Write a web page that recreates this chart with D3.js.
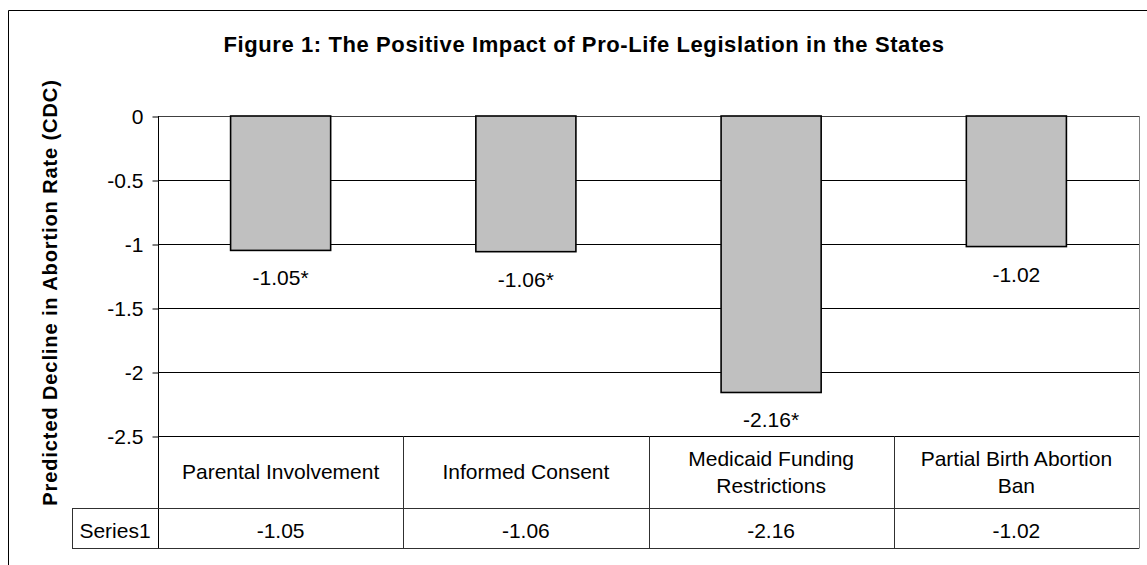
<!DOCTYPE html>
<html>
<head>
<meta charset="utf-8">
<script src="https://cdn.jsdelivr.net/npm/d3@7"></script>
<style>
  html, body { margin: 0; padding: 0; background: #fff; }
  svg { display: block; font-family: "Liberation Sans", Arial, sans-serif; }
</style>
</head>
<body>
<svg id="chart" width="1147" height="565"></svg>
<script>
// ---- data ----
const categories = ["Parental Involvement", "Informed Consent", "Medicaid Funding Restrictions", "Partial Birth Abortion Ban"];
const values = [-1.05, -1.06, -2.16, -1.02];
const significant = [true, true, true, false];
const seriesName = "Series1";
const yTicks = [0, -0.5, -1, -1.5, -2, -2.5];
const titleText = "Figure 1: The Positive Impact of Pro-Life Legislation in the States";
const yTitleText = "Predicted Decline in Abortion Rate (CDC)";

// ---- layout ----
const W = 1147, H = 565;
const plot = { left: 158, right: 1139, top: 116, bottom: 436 };
const table = { catBottom: 508, rowBottom: 548, seriesLeft: 72 };

const svg = d3.select("#chart");
const locale = d3.formatLocale({ decimal: ".", thousands: ",", grouping: [3], currency: ["$", ""], minus: "-" });
const fmt = locale.format(".2f");
const tickFmt = locale.format("");

const x = d3.scaleBand().domain(categories).range([plot.left, plot.right]).padding(0);
const y = d3.scaleLinear().domain([-2.5, 0]).range([plot.bottom, plot.top]);
const barW = x.bandwidth() * 0.408;

// outer chart frame (clipped on right/bottom)
svg.append("line").attr("x1", 8.5).attr("x2", W + 5).attr("y1", 10.5).attr("y2", 10.5).attr("stroke", "#000");
svg.append("line").attr("x1", 8.5).attr("x2", 8.5).attr("y1", 10.5).attr("y2", H + 5).attr("stroke", "#000");

// title
svg.append("text").attr("x", 584).attr("y", 52)
  .attr("text-anchor", "middle").attr("font-weight", "bold")
  .attr("font-size", 22).attr("letter-spacing", 0.6).text(titleText);

// y title
svg.append("text")
  .attr("transform", "translate(57,292.5) rotate(-90)")
  .attr("text-anchor", "middle").attr("font-weight", "bold")
  .attr("font-size", 20).attr("letter-spacing", 0.9).text(yTitleText);

// gridlines
svg.append("g").selectAll("line").data(yTicks).join("line")
  .attr("x1", plot.left).attr("x2", plot.right)
  .attr("y1", d => Math.round(y(d)) + 0.5).attr("y2", d => Math.round(y(d)) + 0.5)
  .attr("stroke", "#000").attr("stroke-width", 1);

// plot right border (gray)
svg.append("line").attr("x1", plot.right + 0.5).attr("x2", plot.right + 0.5)
  .attr("y1", plot.top).attr("y2", table.rowBottom + 0.5).attr("stroke", "#808080");
svg.append("line").attr("x1", plot.left).attr("x2", plot.right)
  .attr("y1", plot.top + 0.5).attr("y2", plot.top + 0.5).attr("stroke", "#404040");

// y axis
const yAxis = d3.axisLeft(y).tickValues(yTicks).tickSize(6).tickPadding(9)
  .tickFormat(d => tickFmt(d));
const gy = svg.append("g").attr("transform", `translate(${plot.left + 0.5},0.5)`).call(yAxis);
gy.select(".domain").remove();
gy.selectAll(".tick line").attr("stroke", "#000");
gy.selectAll(".tick text").attr("font-size", 21).attr("font-family", "Liberation Sans, Arial, sans-serif")
  .attr("fill", "#000").attr("dy", "0.35em");
svg.append("line").attr("x1", plot.left + 0.5).attr("x2", plot.left + 0.5)
  .attr("y1", plot.top).attr("y2", table.rowBottom + 0.5).attr("stroke", "#000");

// bars
svg.append("g").selectAll("rect").data(values).join("rect")
  .attr("x", (d, i) => x(categories[i]) + x.bandwidth() / 2 - barW / 2)
  .attr("y", d => y(0))
  .attr("width", barW)
  .attr("height", d => y(d) - y(0))
  .attr("fill", "#c0c0c0").attr("stroke", "#000").attr("stroke-width", 1.6);

// bar labels
svg.append("g").selectAll("text").data(values).join("text")
  .attr("x", (d, i) => x(categories[i]) + x.bandwidth() / 2)
  .attr("y", d => y(d) + 35)
  .attr("text-anchor", "middle").attr("font-size", 21)
  .text((d, i) => fmt(d) + (significant[i] ? "*" : ""));

// data table
const tcol = "#303030";
[table.catBottom, table.rowBottom].forEach(yy => {
  svg.append("line").attr("x1", table.seriesLeft).attr("x2", plot.right)
    .attr("y1", yy + 0.5).attr("y2", yy + 0.5).attr("stroke", tcol);
});
svg.append("line").attr("x1", table.seriesLeft + 0.5).attr("x2", table.seriesLeft + 0.5)
  .attr("y1", table.catBottom).attr("y2", table.rowBottom + 0.5).attr("stroke", tcol);
svg.append("g").selectAll("line").data(categories.slice(1)).join("line")
  .attr("x1", d => Math.round(x(d)) + 0.5).attr("x2", d => Math.round(x(d)) + 0.5)
  .attr("y1", plot.bottom).attr("y2", table.rowBottom + 0.5).attr("stroke", tcol);

// category labels (wrapped)
const catG = svg.append("g");
categories.forEach(c => {
  const t = catG.append("text").attr("text-anchor", "middle").attr("font-size", 21)
    .attr("x", x(c) + x.bandwidth() / 2);
  const words = c.split(" ");
  const lines = [];
  let cur = [];
  const maxW = x.bandwidth() - 24;
  const probe = catG.append("text").attr("font-size", 21);
  words.forEach(w => {
    const test = cur.concat([w]).join(" ");
    probe.text(test);
    if (probe.node().getComputedTextLength() > maxW && cur.length) {
      lines.push(cur.join(" ")); cur = [w];
    } else cur.push(w);
  });
  lines.push(cur.join(" "));
  probe.remove();
  const lh = 27;
  const mid = (plot.bottom + table.catBottom) / 2 + 7;
  lines.forEach((ln, i) => {
    t.append("tspan").attr("x", x(c) + x.bandwidth() / 2)
      .attr("y", mid + (i - (lines.length - 1) / 2) * lh).text(ln);
  });
});

// series row
svg.append("text").attr("x", (table.seriesLeft + plot.left) / 2).attr("y", 538)
  .attr("text-anchor", "middle").attr("font-size", 21).text(seriesName);
svg.append("g").selectAll("text").data(values).join("text")
  .attr("x", (d, i) => x(categories[i]) + x.bandwidth() / 2).attr("y", 538)
  .attr("text-anchor", "middle").attr("font-size", 21).text(d => fmt(d));
</script>
</body>
</html>
